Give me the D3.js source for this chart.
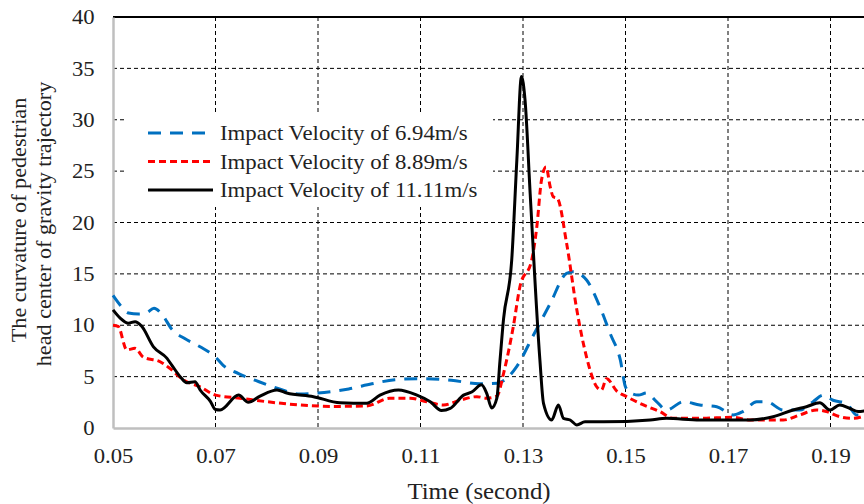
<!DOCTYPE html>
<html><head><meta charset="utf-8">
<script src="https://cdn.jsdelivr.net/npm/d3@7"></script>
<style>
html,body{margin:0;padding:0;background:#fff;}
svg{display:block;}
text{font-family:"Liberation Serif","Times New Roman",serif;fill:#222;}
</style></head>
<body>
<svg id="chart" width="864" height="504"></svg>
<script>
const xTicks = [0.05,0.07,0.09,0.11,0.13,0.15,0.17,0.19];
const yTicks = [0,5,10,15,20,25,30,35,40];
const seriesNames = ["Impact Velocity of 6.94m/s","Impact Velocity of 8.89m/s","Impact Velocity of 11.11m/s"];

const t694 = [0.0500,0.0515,0.0530,0.0550,0.0565,0.0580,0.0595,0.0615,0.0640,0.0670,0.0700,0.0715,0.0745,0.0785,0.0825,0.0865,0.0900,0.0960,0.1005,0.1050,0.1095,0.1160,0.1215,0.1250,0.1265,0.1288,0.1320,0.1353,0.1385,0.1398,0.1424,0.1450,0.1470,0.1490,0.1500,0.1510,0.1525,0.1541,0.1560,0.1580,0.1613,0.1645,0.1678,0.1710,0.1729,0.1756,0.1775,0.1808,0.1840,0.1866,0.1886,0.1905,0.1931,0.1951,0.1970];
const v694 = [12.9,11.9,11.2,11.1,11.2,11.65,11.1,9.6,8.7,7.9,6.9,6.1,5.3,4.5,3.8,3.3,3.4,3.8,4.3,4.7,4.8,4.65,4.3,4.35,4.7,6.0,9.0,12.1,15.05,15.2,14.4,11.8,9.2,6.6,4.0,3.4,3.2,3.4,2.6,1.75,2.56,2.24,2.07,1.27,1.6,2.56,2.56,1.75,1.75,2.56,3.2,2.7,2.4,1.27,1.43];

const t889 = [0.0500,0.0510,0.0527,0.0543,0.0559,0.0592,0.0611,0.0637,0.0670,0.0700,0.0748,0.0800,0.0865,0.0930,0.0995,0.1040,0.1080,0.1112,0.1145,0.1177,0.1210,0.1229,0.1249,0.1262,0.1281,0.1294,0.1317,0.1327,0.1336,0.1345,0.1353,0.1359,0.1367,0.1385,0.1405,0.1424,0.1444,0.1453,0.1463,0.1483,0.1502,0.1535,0.1567,0.1593,0.1645,0.1710,0.1743,0.1808,0.1840,0.1873,0.1892,0.1918,0.1944,0.1970];
const v889 = [10.0,9.9,7.6,7.75,6.9,6.45,5.8,4.7,4.0,3.2,2.9,2.56,2.24,2.1,2.14,2.9,2.9,2.56,2.24,2.7,3.05,2.9,3.1,5.3,9.85,13.75,16.35,19.6,24.1,25.4,23.5,22.5,22.35,18.0,11.5,6.9,4.0,3.7,4.8,3.6,3.05,2.24,1.6,0.94,0.94,1.04,0.78,0.78,1.27,1.75,1.6,1.1,0.94,1.27];

const t1111 = [0.0500,0.0514,0.0530,0.0543,0.0556,0.0579,0.0605,0.0615,0.0631,0.0644,0.0660,0.0670,0.0690,0.0700,0.0709,0.0745,0.0764,0.0787,0.0820,0.0839,0.0891,0.0943,0.0995,0.1021,0.1057,0.1093,0.1119,0.1141,0.1158,0.1184,0.1200,0.1219,0.1229,0.1239,0.1249,0.1255,0.1262,0.1278,0.1288,0.1297,0.1304,0.1314,0.1333,0.1340,0.1356,0.1369,0.1379,0.1392,0.1405,0.1421,0.1457,0.1548,0.1580,0.1645,0.1743,0.1788,0.1827,0.1853,0.1879,0.1899,0.1918,0.1938,0.1954,0.1970];
const v1111 = [11.5,10.7,10.2,10.35,9.9,7.9,6.8,6.1,5.0,4.4,4.5,3.7,2.6,1.8,1.75,3.2,2.5,3.1,3.7,3.4,3.05,2.45,2.4,3.2,3.7,3.2,2.56,1.7,1.9,3.2,3.5,4.2,3.4,1.95,2.9,6.5,10.6,16.35,26.1,34.2,31.9,22.8,6.6,2.4,0.78,2.24,0.94,0.78,0.3,0.6,0.6,0.78,0.94,0.78,0.78,1.1,1.75,2.07,2.46,1.75,2.24,1.9,1.6,1.7];

const svg = d3.select("#chart");
const pL = 113, pR = 881.75, pT = 17, pB = 428;
const x = d3.scaleLinear().domain([0.05, 0.2]).range([pL, pR]);
const y = d3.scaleLinear().domain([0, 40]).range([pB, pT]);

// gridlines
const g = svg.append("g");
g.selectAll("line.hg").data(yTicks.filter(d => d > 0 && d < 40)).enter().append("line")
  .attr("x1", pL).attr("x2", pR).attr("y1", d => y(d)).attr("y2", d => y(d))
  .attr("stroke", "#000").attr("stroke-width", 1).attr("stroke-dasharray", "4,3");
g.selectAll("line.vg").data(xTicks.filter(d => d > 0.05)).enter().append("line")
  .attr("x1", d => x(d)).attr("x2", d => x(d)).attr("y1", pT).attr("y2", pB)
  .attr("stroke", "#000").attr("stroke-width", 1).attr("stroke-dasharray", "4,3");
svg.append("line").attr("x1", pL).attr("x2", pR).attr("y1", y(40)).attr("y2", y(40))
  .attr("stroke", "#000").attr("stroke-width", 2);

// axes
const xAxis = svg.append("g").attr("transform", `translate(0,${pB})`)
  .call(d3.axisBottom(x).tickValues(xTicks).tickSize(0).tickPadding(20).tickFormat(d3.format(".2f")));
xAxis.select(".domain").attr("stroke", "#bfbfbf").attr("stroke-width", 2.5);
xAxis.selectAll("text").attr("font-size", 21).attr("fill", "#222")
  .attr("transform", "scale(1.08,1)").style("font-family", "Liberation Serif");

const yAxis = svg.append("g").attr("transform", `translate(${pL},0)`)
  .call(d3.axisLeft(y).tickValues(yTicks).tickSize(0).tickPadding(17));
yAxis.select(".domain").attr("stroke", "#bfbfbf").attr("stroke-width", 2.5);
yAxis.selectAll("text").attr("font-size", 21).attr("fill", "#222")
  .attr("transform", "scale(1.08,1)").style("font-family", "Liberation Serif");

// series
const line = d3.line().x(d => x(d[0])).y(d => y(d[1])).curve(d3.curveMonotoneX);
const series = [
  {name: seriesNames[0], t: t694, v: v694, color: "#0070C0", dash: "13,9"},
  {name: seriesNames[1], t: t889, v: v889, color: "#FF0000", dash: "7,4"},
  {name: seriesNames[2], t: t1111, v: v1111, color: "#000000", dash: null}
];
series.forEach(s => {
  const pts = s.t.map((tt, i) => [tt, s.v[i]]);
  svg.append("path").attr("d", line(pts)).attr("fill", "none")
    .attr("stroke", s.color).attr("stroke-width", 3)
    .attr("stroke-dasharray", s.dash).attr("stroke-linejoin", "round");
});

// legend
const lg = svg.append("g");
lg.append("rect").attr("x", 125).attr("y", 115).attr("width", 368).attr("height", 92).attr("fill", "#fff");
series.forEach((s, i) => {
  const cy = 133 + i * 28.5;
  lg.append("line").attr("x1", 148).attr("x2", 213).attr("y1", cy).attr("y2", cy)
    .attr("stroke", s.color).attr("stroke-width", 3).attr("stroke-dasharray", s.dash);
  lg.append("text").attr("transform", `translate(220,${cy}) scale(1.14,1)`).attr("dy", "0.35em")
    .attr("font-size", 20).text(s.name);
});

// axis titles
svg.append("text").attr("transform", "translate(479,499) scale(1.08,1)").attr("text-anchor", "middle")
  .attr("font-size", 23).text("Time (second)");
svg.append("text").attr("transform", "translate(26,220) rotate(-90) scale(1.11,1)").attr("text-anchor", "middle")
  .attr("font-size", 20).text("The curvature of pedestrian");
svg.append("text").attr("transform", "translate(51,224) rotate(-90) scale(1.11,1)").attr("text-anchor", "middle")
  .attr("font-size", 20).text("head center of gravity trajectory");
</script>
</body></html>
